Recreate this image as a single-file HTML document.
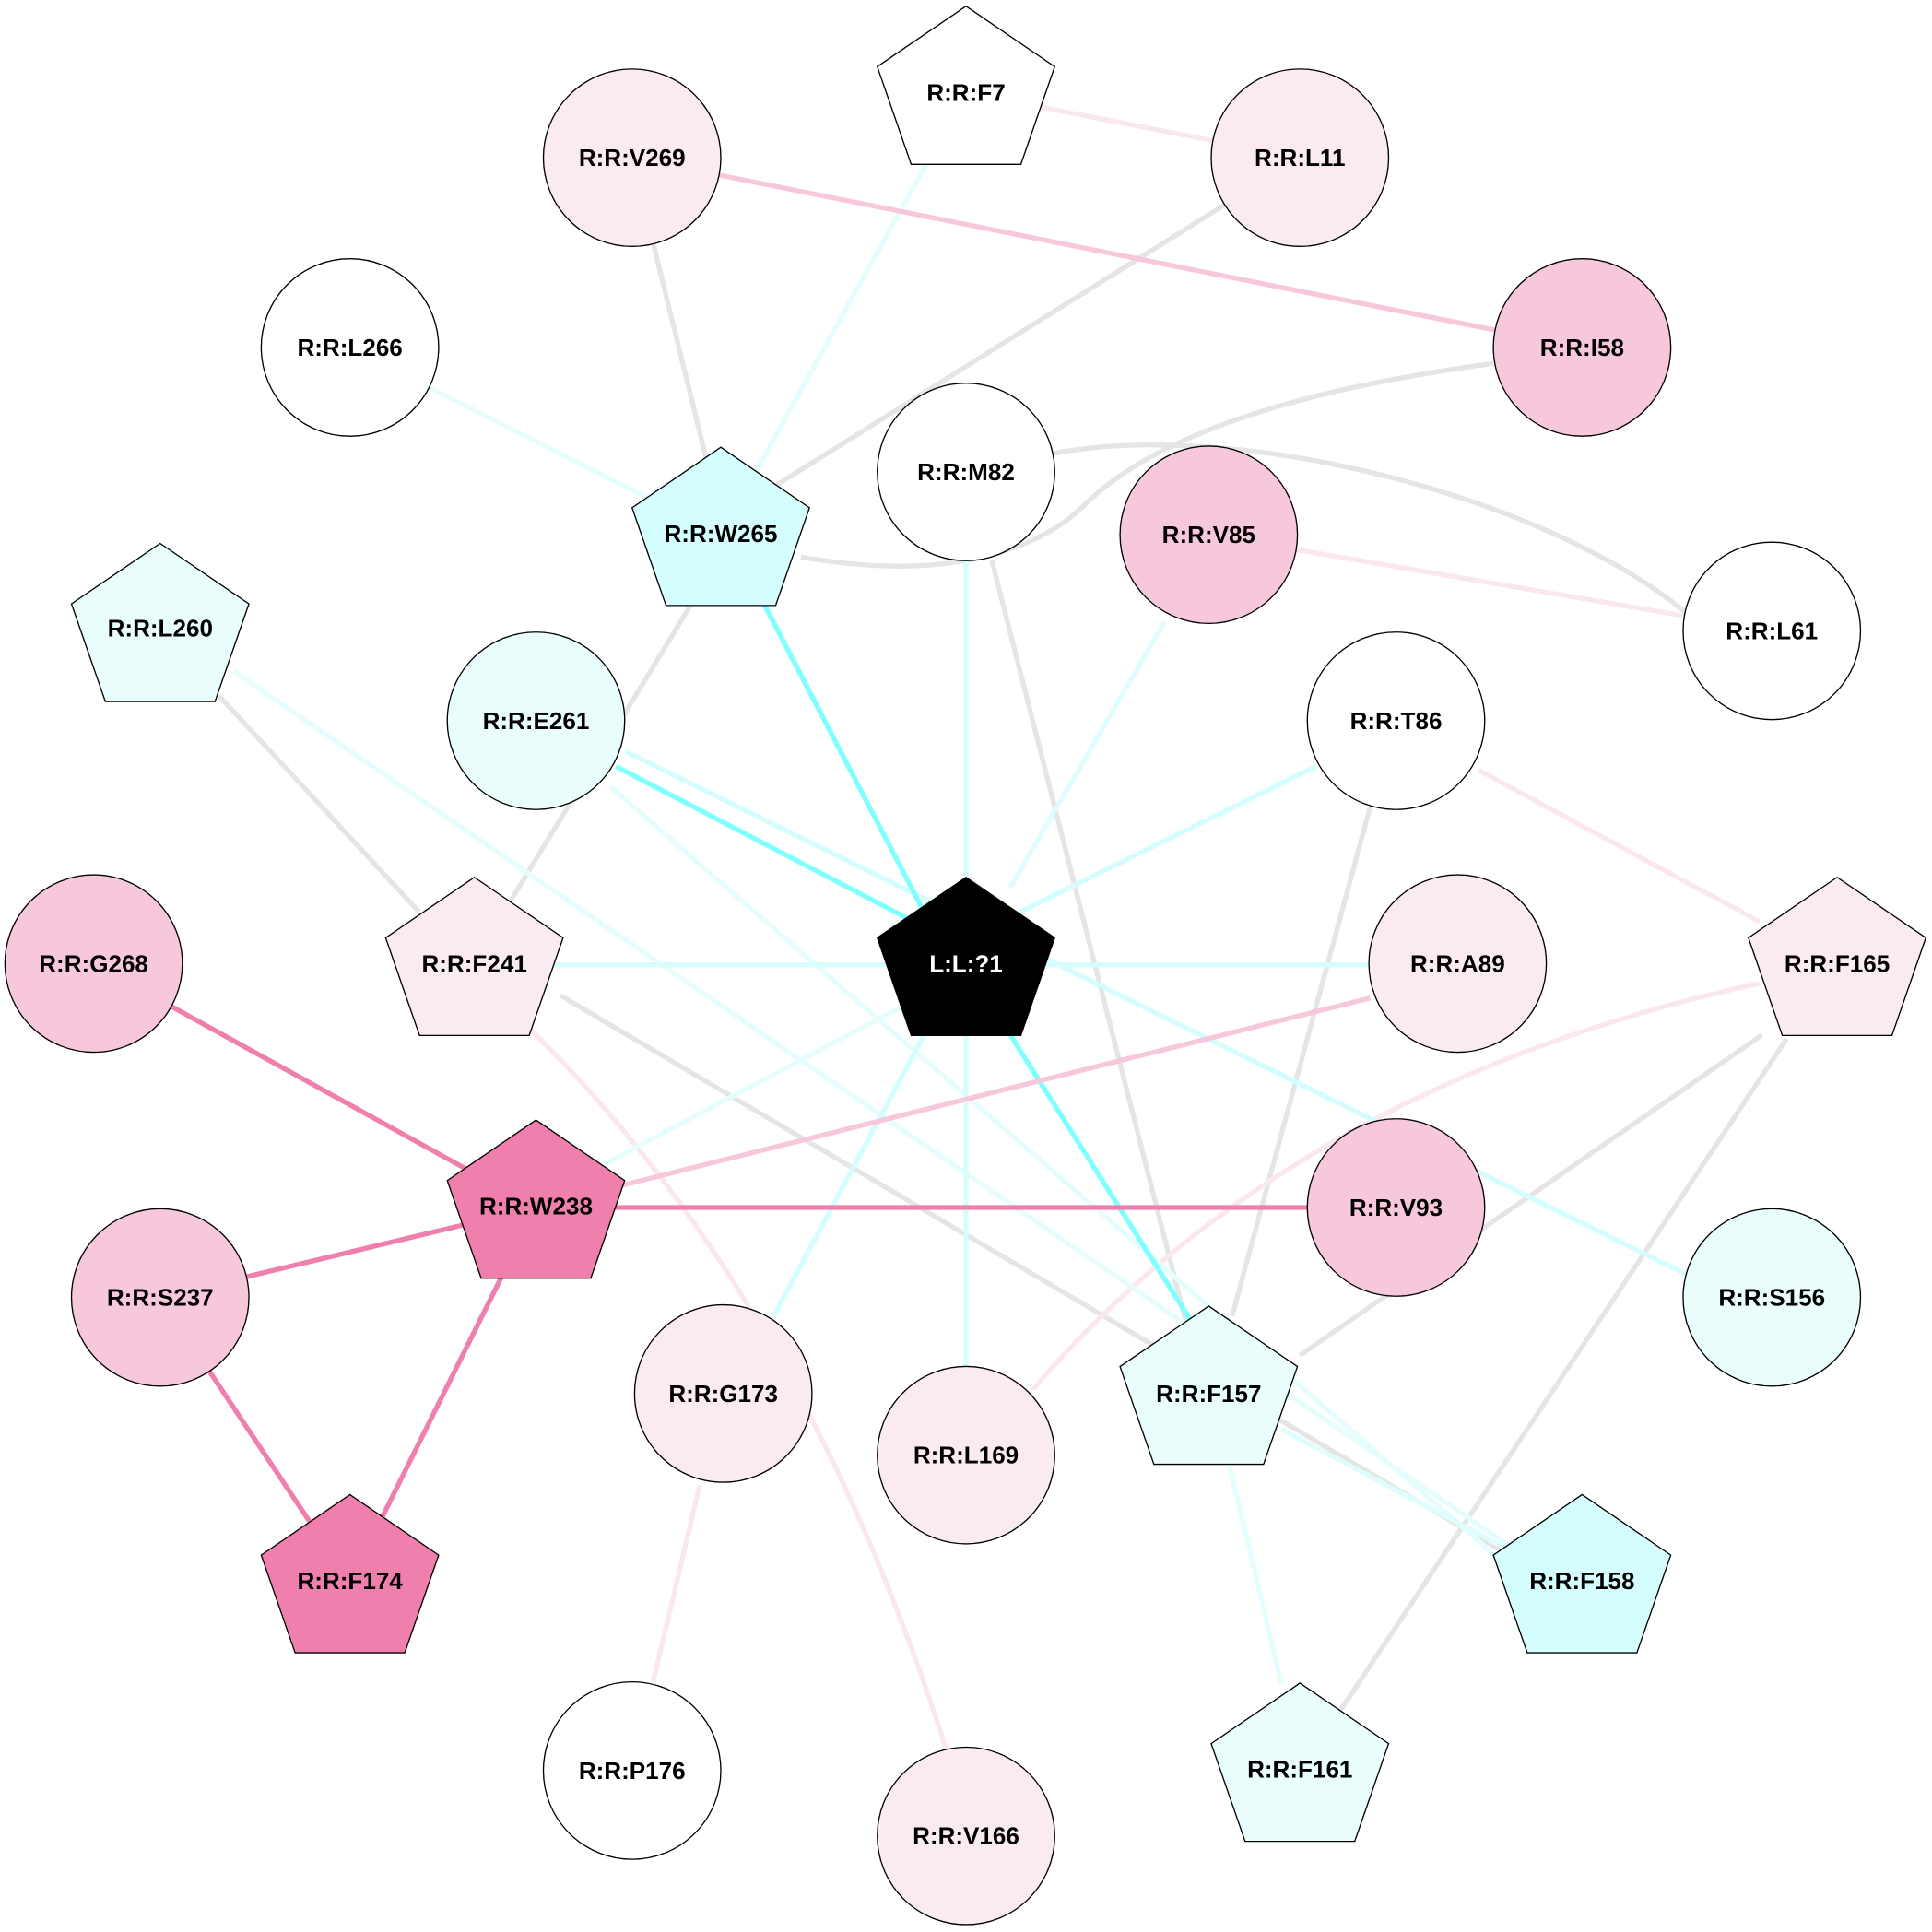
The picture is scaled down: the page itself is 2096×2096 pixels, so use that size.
<!DOCTYPE html>
<html><head><meta charset="utf-8"><style>
html,body{margin:0;padding:0;background:#fff;}
svg{display:block}
text{font-family:"Liberation Sans",Arial,sans-serif;font-weight:bold;font-size:19.5px;text-anchor:middle;dominant-baseline:central;fill:#000}
</style></head><body>
<svg width="2096" height="2096" viewBox="0 0 1568 1568" xmlns="http://www.w3.org/2000/svg">
<defs>
<polygon id="pg" points="0,-71 72,-21.9 44.5,57.4 -44.5,57.4 -72,-21.9"/>
</defs>
<g fill="none" stroke-width="4">
<line x1="1055" y1="128" x2="620" y2="400" stroke="#e5e5e5"/>
<line x1="513" y1="128" x2="580" y2="400" stroke="#e5e5e5"/>
<path d="M650,452 C780,475 850,440 880,410 C950,340 1100,310 1212,295" stroke="#e5e5e5"/>
<path d="M855,368 C1000,340 1250,400 1368,497" stroke="#e5e5e5"/>
<line x1="805" y1="455" x2="963" y2="1075" stroke="#e5e5e5"/>
<line x1="178" y1="565" x2="340" y2="740" stroke="#e5e5e5"/>
<line x1="560" y1="492" x2="412" y2="735" stroke="#e5e5e5"/>
<line x1="1112" y1="655" x2="1000" y2="1068" stroke="#e5e5e5"/>
<line x1="455" y1="808" x2="1238" y2="1270" stroke="#e5e5e5"/>
<line x1="1430" y1="840" x2="1055" y2="1100" stroke="#e5e5e5"/>
<line x1="1450" y1="843" x2="1088" y2="1388" stroke="#e5e5e5"/>
<line x1="784" y1="75" x2="1055" y2="128" stroke="#fbe8ef"/>
<line x1="981" y1="434" x2="1438" y2="512" stroke="#fbe8ef"/>
<line x1="1200" y1="625" x2="1428" y2="748" stroke="#fbe8ef"/>
<path d="M430,835 Q650,1050 768,1420" stroke="#fbe8ef"/>
<path d="M1428,798 Q1050,880 838,1128" stroke="#fbe8ef"/>
<line x1="568" y1="1205" x2="530" y2="1365" stroke="#fbe8ef"/>
<line x1="284" y1="282" x2="585" y2="434" stroke="#e5fdfd"/>
<line x1="784" y1="75" x2="585" y2="434" stroke="#e5fdfd"/>
<line x1="784" y1="383" x2="784" y2="783" stroke="#d8fdfd"/>
<line x1="945" y1="505" x2="820" y2="720" stroke="#e0fdfd"/>
<line x1="190" y1="545" x2="1240" y2="1265" stroke="#e5fdfd"/>
<line x1="508" y1="610" x2="1370" y2="1035" stroke="#d4fdfd"/>
<line x1="495" y1="638" x2="1220" y2="1268" stroke="#e5fdfd"/>
<line x1="1068" y1="622" x2="818" y2="745" stroke="#d4fdfd"/>
<line x1="385" y1="783" x2="1183" y2="783" stroke="#d8fdfd"/>
<line x1="490" y1="945" x2="745" y2="810" stroke="#e5fdfd"/>
<line x1="750" y1="840" x2="628" y2="1068" stroke="#d4fdfd"/>
<line x1="784" y1="783" x2="784" y2="1181" stroke="#d8fdfd"/>
<line x1="1040" y1="1160" x2="1238" y2="1265" stroke="#e0fdfd"/>
<line x1="998" y1="1190" x2="1040" y2="1367" stroke="#e5fdfd"/>
<line x1="620" y1="490" x2="755" y2="750" stroke="#80ffff"/>
<line x1="500" y1="622" x2="755" y2="755" stroke="#80ffff"/>
<line x1="820" y1="840" x2="978" y2="1090" stroke="#80ffff"/>
<line x1="513" y1="128" x2="1284" y2="282" stroke="#f7c7db"/>
<line x1="505" y1="962" x2="1112" y2="810" stroke="#f7c7db"/>
<line x1="76" y1="782" x2="435" y2="980" stroke="#ef7fac"/>
<line x1="435" y1="980" x2="1133" y2="980" stroke="#ef7fac"/>
<line x1="130" y1="1053" x2="435" y2="980" stroke="#ef7fac"/>
<line x1="130" y1="1053" x2="284" y2="1284" stroke="#ef7fac"/>
<line x1="435" y1="980" x2="284" y2="1284" stroke="#ef7fac"/>
</g>
<g stroke="#000" stroke-width="1">
<circle cx="513" cy="128" r="72" fill="#faeaf2"/>
<circle cx="1055" cy="128" r="72" fill="#faeaf2"/>
<circle cx="284" cy="282" r="72" fill="#fff"/>
<circle cx="1284" cy="282" r="72" fill="#f7c7db"/>
<circle cx="784" cy="383" r="72" fill="#fff"/>
<circle cx="981" cy="434" r="72" fill="#f7c7db"/>
<circle cx="1438" cy="512" r="72" fill="#fff"/>
<circle cx="435" cy="585" r="72" fill="#e9fdfd"/>
<circle cx="1133" cy="585" r="72" fill="#fff"/>
<circle cx="76" cy="782" r="72" fill="#f7c7db"/>
<circle cx="1183" cy="782" r="72" fill="#faeaf2"/>
<circle cx="1133" cy="980" r="72" fill="#f7c7db"/>
<circle cx="130" cy="1053" r="72" fill="#f7c7db"/>
<circle cx="1438" cy="1053" r="72" fill="#e9fdfd"/>
<circle cx="587" cy="1131" r="72" fill="#faeaf2"/>
<circle cx="784" cy="1181" r="72" fill="#faeaf2"/>
<circle cx="513" cy="1437" r="72" fill="#fff"/>
<circle cx="784" cy="1490" r="72" fill="#faeaf2"/>
<use href="#pg" transform="translate(784,76)" fill="#fff"/>
<use href="#pg" transform="translate(585,434)" fill="#d4fdfd"/>
<use href="#pg" transform="translate(130,512)" fill="#e9fdfd"/>
<use href="#pg" transform="translate(385,783)" fill="#faeaf2"/>
<use href="#pg" transform="translate(784,783)" fill="#000"/>
<use href="#pg" transform="translate(1491,783)" fill="#faeaf2"/>
<use href="#pg" transform="translate(435,980)" fill="#ef7fac"/>
<use href="#pg" transform="translate(981,1131)" fill="#e9fdfd"/>
<use href="#pg" transform="translate(284,1284)" fill="#ef7fac"/>
<use href="#pg" transform="translate(1284,1284)" fill="#d4fdfd"/>
<use href="#pg" transform="translate(1055,1437)" fill="#e9fdfd"/>
</g>
<text x="784" y="75">R:R:F7</text>
<text x="513" y="128">R:R:V269</text>
<text x="1055" y="128">R:R:L11</text>
<text x="284" y="282">R:R:L266</text>
<text x="1284" y="282">R:R:I58</text>
<text x="784" y="383">R:R:M82</text>
<text x="585" y="433">R:R:W265</text>
<text x="981" y="434">R:R:V85</text>
<text x="130" y="510">R:R:L260</text>
<text x="1438" y="512">R:R:L61</text>
<text x="435" y="585">R:R:E261</text>
<text x="1133" y="585">R:R:T86</text>
<text x="76" y="782">R:R:G268</text>
<text x="385" y="782">R:R:F241</text>
<text x="784" y="782" style="fill:#fff">L:L:?1</text>
<text x="1183" y="782">R:R:A89</text>
<text x="1491" y="782">R:R:F165</text>
<text x="435" y="979">R:R:W238</text>
<text x="1133" y="980">R:R:V93</text>
<text x="130" y="1053">R:R:S237</text>
<text x="1438" y="1053">R:R:S156</text>
<text x="587" y="1131">R:R:G173</text>
<text x="981" y="1131">R:R:F157</text>
<text x="784" y="1181">R:R:L169</text>
<text x="284" y="1283">R:R:F174</text>
<text x="1284" y="1283">R:R:F158</text>
<text x="513" y="1437">R:R:P176</text>
<text x="1055" y="1436">R:R:F161</text>
<text x="784" y="1490">R:R:V166</text>
</svg>
</body></html>
